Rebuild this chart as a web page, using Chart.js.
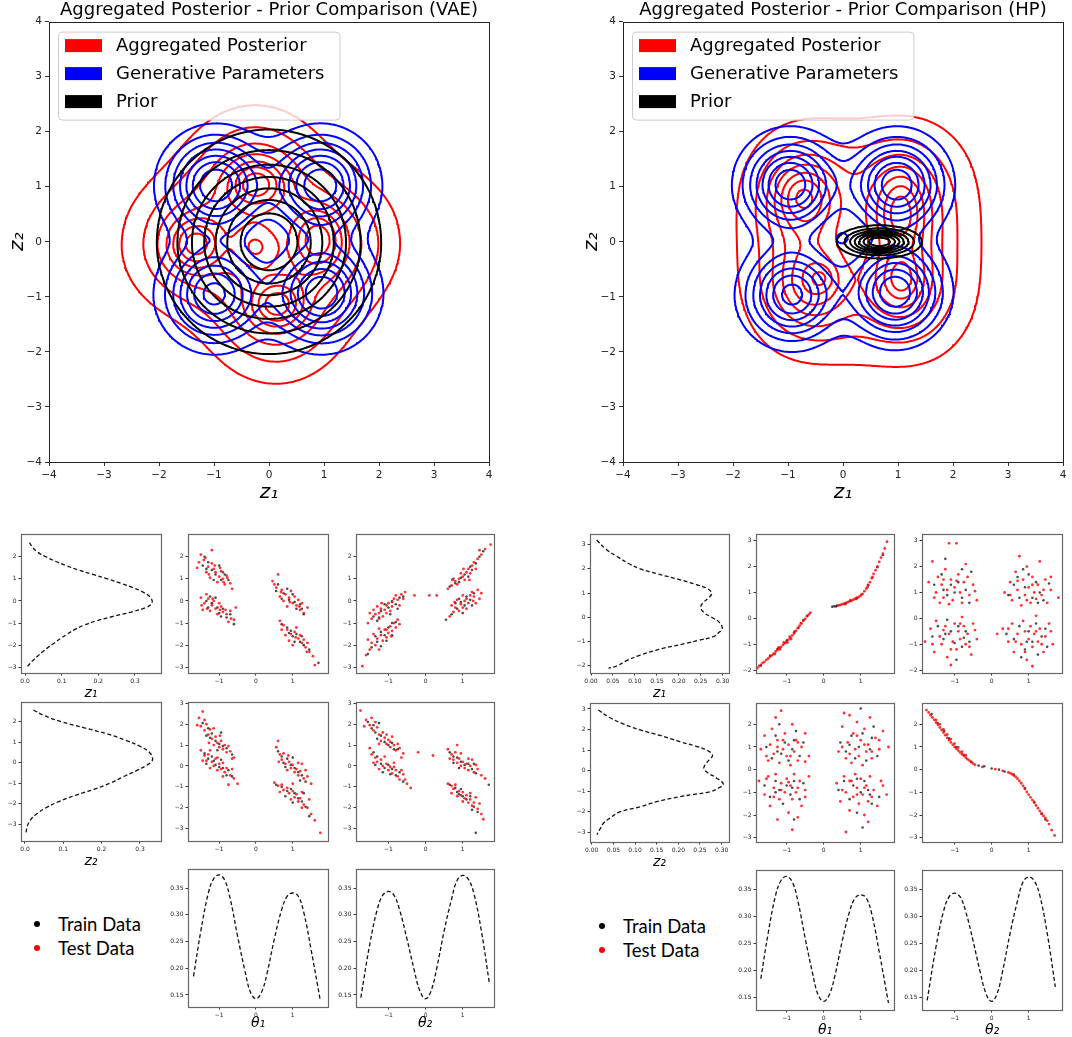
<!DOCTYPE html>
<html>
<head>
<meta charset="utf-8">
<script src="https://cdn.jsdelivr.net/npm/chart.js@4.4.1/dist/chart.umd.min.js"></script>
<style>
  html, body { margin: 0; padding: 0; background: #fff; overflow: hidden; }
  #page { position: relative; width: 1072px; height: 1037px; }
  canvas { position: absolute; }
  .key { position: absolute; font-family: Lato, 'Liberation Sans', sans-serif; font-size: 18.5px; line-height: 24px; color: #000; }
  .key i { display: inline-block; width: 6px; height: 6px; border-radius: 50%; margin-right: 18px; vertical-align: middle; position: relative; top: -2px; }
</style>
</head>
<body>
<div id="page"></div>
<script>
// ---- contour data: gaussian bumps [cx, cy, sx, sy, weight] ----
const vaePosterior = [
  [-1.4, -0.05, 0.8, 0.8, 0.5], [1.1, 0.0, 0.8, 0.8, 0.5], [-0.25, 1.2, 0.8, 0.8, 0.5], [0.12, -1.3, 0.8, 0.8, 0.5],
  [-1.35, -0.05, 0.3, 0.3, 0.5], [0.9, 0.05, 0.28, 0.35, 0.5], [-0.23, 1.06, 0.33, 0.28, 0.5], [0.14, -1.15, 0.3, 0.27, 0.5],
  [-0.25, -0.1, 0.27, 0.28, 0.3]
];
const vaeGenerative = [[-0.97, 1.03, 0.55, 0.55, 1], [0.94, 1.03, 0.55, 0.55, 1], [-1.0, -0.95, 0.55, 0.55, 0.93], [0.96, -0.93, 0.55, 0.55, 1]];
const vaePrior = [[0, 0, 1, 1, 1]];
const hpPosterior = [
  [0.3, 0.0, 1.0, 1.0, 0.12],
  [-1.0, 0.0, 0.75, 1.3, 0.18], [1.55, 0.0, 0.75, 1.35, 0.2], [0.3, 1.3, 1.2, 0.8, 0.16], [0.3, -1.3, 1.2, 0.8, 0.16],
  [-0.7, 0.75, 0.45, 0.55, 0.4], [1.05, 0.6, 0.42, 0.6, 0.4], [-0.55, -0.75, 0.45, 0.5, 0.4], [1.05, -0.75, 0.42, 0.5, 0.4],
  [-0.75, 0.85, 0.28, 0.28, 0.15], [1.05, 0.5, 0.2, 0.38, 0.15], [-0.39, -0.66, 0.16, 0.16, 0.15], [1.07, -0.66, 0.16, 0.2, 0.15]
];
const hpGenerative = [[-0.96, 1.04, 0.52, 0.52, 1], [0.98, 1.04, 0.52, 0.52, 1], [-0.93, -0.96, 0.52, 0.52, 0.93], [0.95, -0.91, 0.52, 0.52, 1]];
const hpPrior = [[0.66, 0, 0.38, 0.147, 1]];
const contourLevels = [0.125, 0.25, 0.375, 0.5, 0.625, 0.75, 0.875];
const mainTicks = [-4, -3, -2, -1, 0, 1, 2, 3, 4];
const legendLabels = ['Aggregated Posterior', 'Generative Parameters', 'Prior'];

// ---- marginal densities [density, z] and [theta, density] ----
const vaeZ1Density = [[0.012,2.64],[0.022,2.4],[0.035,2.2],[0.057,2.0],[0.082,1.8],[0.112,1.6],[0.146,1.4],[0.185,1.2],[0.225,1.0],[0.262,0.8],[0.295,0.6],[0.322,0.4],[0.34,0.2],[0.347,0.0],[0.344,-0.15],[0.33,-0.3],[0.29,-0.5],[0.24,-0.7],[0.195,-0.9],[0.16,-1.1],[0.135,-1.3],[0.115,-1.5],[0.097,-1.7],[0.08,-1.9],[0.063,-2.1],[0.048,-2.3],[0.034,-2.5],[0.021,-2.7],[0.01,-2.9],[0.005,-3.0]];
const vaeZ2Density = [[0.022,2.57],[0.05,2.3],[0.095,2.0],[0.155,1.7],[0.215,1.4],[0.262,1.1],[0.3,0.8],[0.325,0.5],[0.333,0.15],[0.32,-0.1],[0.29,-0.4],[0.255,-0.7],[0.222,-1.0],[0.18,-1.3],[0.13,-1.6],[0.088,-1.9],[0.055,-2.2],[0.03,-2.5],[0.014,-2.8],[0.006,-3.1],[0.002,-3.5]];
const hpZ1Density = [[0.013,3.19],[0.035,2.8],[0.06,2.5],[0.088,2.2],[0.112,2.0],[0.15,1.8],[0.203,1.55],[0.24,1.35],[0.264,1.2],[0.275,1.0],[0.268,0.8],[0.255,0.6],[0.25,0.4],[0.257,0.2],[0.275,0.0],[0.292,-0.2],[0.299,-0.45],[0.29,-0.65],[0.279,-0.8],[0.245,-0.95],[0.218,-1.07],[0.16,-1.3],[0.112,-1.56],[0.08,-1.8],[0.06,-2.0],[0.04,-2.11]];
const hpZ2Density = [[0.015,2.95],[0.04,2.6],[0.07,2.3],[0.112,1.98],[0.16,1.7],[0.204,1.41],[0.24,1.2],[0.266,1.0],[0.279,0.76],[0.27,0.5],[0.262,0.3],[0.259,0.11],[0.268,-0.1],[0.288,-0.35],[0.304,-0.65],[0.292,-0.85],[0.273,-1.02],[0.235,-1.15],[0.204,-1.26],[0.15,-1.5],[0.112,-1.75],[0.065,-2.0],[0.042,-2.3],[0.027,-2.55],[0.02,-2.8],[0.012,-3.1]];
const theta1Density = [[-1.7,0.185],[-1.5,0.27],[-1.3,0.34],[-1.15,0.368],[-1.0,0.375],[-0.85,0.365],[-0.7,0.33],[-0.5,0.26],[-0.3,0.195],[-0.15,0.155],[0.0,0.143],[0.15,0.155],[0.3,0.19],[0.5,0.255],[0.7,0.31],[0.85,0.335],[1.0,0.341],[1.15,0.335],[1.3,0.305],[1.5,0.235],[1.75,0.14]];
const theta2Density = [[-1.74,0.145],[-1.5,0.245],[-1.3,0.31],[-1.15,0.337],[-1.0,0.344],[-0.85,0.337],[-0.7,0.31],[-0.5,0.255],[-0.3,0.195],[-0.15,0.157],[0.0,0.143],[0.15,0.158],[0.3,0.2],[0.5,0.27],[0.7,0.33],[0.85,0.365],[1.0,0.374],[1.15,0.367],[1.3,0.34],[1.5,0.27],[1.72,0.17]];

// ---- VAE samples [theta, z] ----
const vaeT1Z1Test = [[-1.42,1.85],[-1.3,1.55],[-1.2,1.7],[-1.1,1.3],[-1.0,1.1],[-0.9,1.0],[-0.85,0.75],[-0.7,0.8],[-1.25,1.05],[-1.35,1.3],[-1.5,2.1],[-1.15,1.45],[-0.95,1.35],[-0.8,1.15],[-1.05,0.85],[-1.6,1.5],[-0.65,0.55],[-1.2,2.3],
  [-1.5,0.15],[-1.4,-0.1],[-1.3,0.1],[-1.2,-0.2],[-1.1,-0.35],[-1.0,-0.1],[-0.9,-0.5],[-0.8,-0.6],[-0.7,-0.45],[-0.6,-0.85],[-1.25,-0.45],[-1.05,-0.6],[-0.95,-0.25],[-1.35,0.3],[-0.75,-0.95],[-1.15,0.0],[-0.55,-0.3],[-1.45,-0.4],
  [0.45,0.9],[0.55,0.6],[0.7,0.5],[0.8,0.3],[0.9,0.15],[1.0,-0.1],[1.1,-0.2],[1.2,-0.4],[1.3,-0.55],[1.4,-0.3],[0.75,0.0],[0.95,0.45],[1.05,0.2],[1.15,0.05],[0.65,0.2],[1.25,-0.1],[0.85,-0.25],[0.6,1.2],
  [0.65,-0.9],[0.75,-1.1],[0.85,-1.3],[0.95,-1.5],[1.05,-1.4],[1.15,-1.7],[1.25,-1.9],[1.35,-2.1],[1.45,-2.3],[1.55,-2.5],[0.9,-1.8],[1.1,-1.2],[1.2,-1.55],[1.3,-1.75],[1.0,-2.0],[0.8,-1.55],[1.4,-1.9],[1.6,-2.9],
  [-1.55,1.75],[-1.38,1.95],[-1.28,1.2],[-1.12,1.6],[-0.98,1.5],[-0.88,0.85],[-0.78,1.05],[-1.48,-0.2],[-1.33,-0.35],[-1.18,0.1],[-0.98,-0.4],[-0.83,-0.4],[-0.68,-0.8],[0.5,0.75],[0.68,0.4],[0.92,-0.05],[1.18,-0.25],[0.7,-1.3],[1.08,-1.65],[1.38,-2.3]];
const vaeT1Z1Train = [[-1.3,1.75],[-1.1,1.2],[-0.95,0.95],[-1.2,1.4],[-0.85,1.2],[-1.45,1.6],[-1.0,1.6],[-0.75,0.95],[-1.15,0.95],[-1.4,2.0],
  [-1.35,0.0],[-1.2,-0.1],[-1.05,-0.3],[-0.9,-0.35],[-0.8,-0.75],[-1.0,-0.55],[-1.3,-0.3],[-0.7,-0.6],[-1.1,0.15],[-0.6,-1.05],
  [0.6,0.75],[0.75,0.35],[0.9,0.05],[1.0,0.3],[1.1,-0.35],[1.2,-0.15],[0.85,0.55],[1.3,-0.6],[0.7,0.1],[1.05,-0.05],
  [0.7,-1.05],[0.85,-1.2],[1.0,-1.6],[1.1,-1.5],[1.2,-1.85],[1.3,-2.0],[0.95,-1.35],[1.45,-2.2],[1.05,-1.85],[1.7,-2.8],
  [-1.35,1.45],[-0.9,1.3],[-1.25,0.2],[-0.95,-0.7],[0.55,0.45],[1.25,-0.35],[0.9,-1.45],[1.25,-1.6]];
const vaeT2Z1Test = [[-1.55,-1.0],[-1.45,-0.8],[-1.35,-0.6],[-1.25,-0.55],[-1.2,-0.35],[-1.1,-0.4],[-1.05,-0.2],[-1.0,-0.1],[-0.9,-0.05],[-0.85,0.1],[-0.75,0.05],[-0.65,0.3],[-0.55,0.4],[-1.3,-0.25],[-0.95,-0.45],[-1.15,-0.7],[-0.7,-0.2],[-1.4,-0.4],
  [-1.6,-2.45],[-1.5,-2.2],[-1.45,-1.9],[-1.35,-2.0],[-1.3,-1.7],[-1.2,-1.55],[-1.15,-1.8],[-1.1,-1.3],[-1.0,-1.45],[-0.95,-1.15],[-0.9,-1.35],[-0.85,-1.0],[-0.75,-0.85],[-1.25,-1.25],[-1.05,-1.65],[-0.8,-1.2],[-1.4,-1.5],[-1.7,-2.95],
  [0.6,0.55],[0.7,0.7],[0.8,0.9],[0.85,0.75],[0.9,1.0],[1.0,1.1],[1.05,0.95],[1.1,1.3],[1.15,1.45],[1.2,1.25],[1.25,1.6],[1.3,1.75],[1.4,1.9],[1.5,2.1],[1.6,2.35],[0.95,1.25],[1.35,1.45],[1.75,2.55],
  [0.65,-0.7],[0.75,-0.5],[0.8,-0.3],[0.9,-0.45],[0.95,-0.15],[1.0,-0.3],[1.05,0.0],[1.1,0.1],[1.15,-0.1],[1.2,0.25],[1.25,0.4],[1.3,0.2],[1.4,0.5],[0.85,0.05],[1.0,0.25],[0.7,-0.2],[1.35,-0.1],[1.5,0.35],
  [-0.3,0.25],[0.1,0.25],[0.3,0.25],
  [-1.5,-0.55],[-1.25,-0.8],[-1.05,-0.55],[-0.9,-0.25],[-0.8,0.25],[-0.6,0.1],[-1.18,-0.1],[-1.55,-1.75],[-1.25,-2.2],[-1.05,-1.3],[-0.92,-1.6],[-0.7,-1.05],[0.72,0.95],[1.02,1.45],[1.18,0.95],[1.45,2.3],[0.78,-0.05],[1.1,-0.35],[1.28,0.0],[1.45,0.1]];
const vaeT2Z1Train = [[-1.4,-0.7],[-1.2,-0.45],[-1.0,-0.3],[-0.9,0.0],[-0.8,-0.15],[-1.1,-0.15],[-0.7,0.15],[-1.3,-0.9],[-0.6,0.2],[-0.95,-0.6],
  [-1.45,-2.1],[-1.3,-1.85],[-1.2,-1.4],[-1.1,-1.55],[-1.0,-1.2],[-0.9,-1.0],[-1.35,-1.6],[-0.8,-0.95],[-1.55,-2.4],[-1.05,-1.8],
  [0.65,0.65],[0.8,0.8],[0.95,1.05],[1.05,1.2],[1.15,1.1],[1.25,1.4],[1.35,1.7],[1.45,2.0],[0.9,0.85],[1.55,2.25],
  [0.7,-0.6],[0.85,-0.35],[0.95,-0.05],[1.05,-0.2],[1.1,0.2],[1.2,0.05],[1.3,0.35],[0.8,-0.1],[1.0,-0.55],[0.55,-0.85],
  [-1.25,-0.75],[-0.75,-0.35],[-1.2,-2.05],[-0.9,-1.55],[0.75,1.0],[1.2,1.55],[0.9,0.1],[1.25,-0.2]];
const vaeT1Z2Test = [[-1.55,2.3],[-1.5,1.9],[-1.4,1.7],[-1.35,2.0],[-1.3,1.5],[-1.25,1.75],[-1.2,1.3],[-1.1,1.4],[-1.05,1.1],[-1.0,0.9],[-0.95,1.2],[-0.9,0.8],[-0.8,0.65],[-0.7,0.7],[-0.6,0.4],[-1.15,1.0],[-0.85,1.0],[-1.45,2.6],
  [-1.5,0.75],[-1.4,0.5],[-1.35,0.25],[-1.3,0.55],[-1.2,0.2],[-1.15,0.0],[-1.1,0.35],[-1.0,0.1],[-0.95,-0.15],[-0.9,0.15],[-0.85,-0.3],[-0.8,-0.1],[-0.7,-0.45],[-0.6,-0.6],[-0.5,-0.85],[-1.05,-0.2],[-1.25,-0.1],[-0.75,-0.9],
  [0.55,0.9],[0.65,0.55],[0.7,0.3],[0.75,0.6],[0.8,0.1],[0.9,0.2],[0.95,-0.1],[1.0,0.05],[1.05,-0.3],[1.1,-0.15],[1.15,-0.45],[1.2,-0.25],[1.3,-0.6],[1.4,-0.5],[1.5,-0.85],[0.85,-0.2],[1.25,0.1],[0.6,1.2],
  [0.5,-0.8],[0.6,-0.95],[0.7,-0.9],[0.75,-1.15],[0.85,-1.05],[0.9,-1.3],[1.0,-1.2],[1.05,-1.5],[1.1,-1.35],[1.15,-1.7],[1.2,-1.55],[1.3,-1.85],[1.4,-2.0],[1.5,-2.3],[0.95,-1.6],[1.25,-1.25],[1.6,-2.6],[1.75,-3.2],
  [-1.6,1.95],[-1.4,2.2],[-1.28,1.1],[-1.15,1.8],[-0.98,1.45],[-0.75,0.95],[-0.65,0.35],[-1.45,0.25],[-1.25,0.75],[-1.05,0.4],[-0.9,-0.5],[-0.65,-0.15],[0.62,0.2],[0.88,0.5],[1.15,0.15],[1.35,-0.2],[0.65,-1.25],[1.0,-0.85],[1.25,-2.0],[1.45,-1.6]];
const vaeT1Z2Train = [[-1.45,2.05],[-1.3,1.8],[-1.2,1.55],[-1.1,1.2],[-1.0,1.05],[-0.9,0.95],[-0.8,0.85],[-1.25,1.35],[-0.65,0.55],[-1.05,0.75],
  [-1.4,0.6],[-1.3,0.35],[-1.2,0.45],[-1.1,0.05],[-1.0,-0.05],[-0.9,-0.1],[-0.8,-0.45],[-1.15,0.25],[-0.65,-0.5],[-0.95,0.3],
  [0.6,0.7],[0.7,0.45],[0.85,0.35],[0.95,0.05],[1.05,-0.1],[1.15,-0.3],[1.25,-0.45],[0.8,-0.05],[1.35,-0.75],[1.0,0.4],
  [0.55,-0.9],[0.7,-1.0],[0.85,-1.2],[0.95,-1.1],[1.05,-1.3],[1.15,-1.55],[1.25,-1.7],[1.35,-1.95],[1.0,-1.75],[1.45,-2.4],
  [-1.35,1.45],[-0.95,1.6],[-1.35,0.1],[-0.75,-0.2],[0.75,0.15],[1.2,-0.7],[0.8,-1.45],[1.3,-1.3]];
const vaeT2Z2Test = [[-1.75,2.65],[-1.6,2.2],[-1.5,1.95],[-1.45,2.3],[-1.4,1.7],[-1.3,1.85],[-1.25,1.5],[-1.2,1.2],[-1.1,1.35],[-1.05,1.05],[-1.0,1.25],[-0.95,0.9],[-0.85,1.0],[-0.8,0.75],[-0.7,0.85],[-0.6,0.6],[-1.15,1.6],[-0.9,1.4],
  [-1.5,0.85],[-1.45,0.55],[-1.35,0.4],[-1.3,0.2],[-1.2,0.3],[-1.15,0.0],[-1.05,0.1],[-1.0,-0.2],[-0.95,-0.05],[-0.9,-0.35],[-0.8,-0.2],[-0.75,-0.5],[-0.7,-0.65],[-0.6,-0.4],[-0.5,-0.85],[-0.4,-1.05],[-1.25,-0.15],[-0.85,0.15],
  [0.6,0.8],[0.7,0.55],[0.75,0.3],[0.8,0.65],[0.85,0.15],[0.9,0.35],[0.95,0.0],[1.0,0.2],[1.05,-0.1],[1.1,0.1],[1.15,-0.2],[1.2,0.0],[1.3,-0.3],[1.4,-0.15],[1.5,-0.45],[1.6,-0.6],[0.85,1.0],[1.25,0.3],
  [0.6,-0.85],[0.7,-0.95],[0.75,-1.1],[0.8,-0.9],[0.9,-1.2],[0.95,-1.4],[1.0,-1.25],[1.05,-1.55],[1.1,-1.4],[1.15,-1.75],[1.2,-1.6],[1.25,-1.9],[1.3,-1.75],[1.4,-2.05],[1.5,-2.3],[0.85,-1.45],[1.35,-1.5],[1.55,-2.55],
  [-0.2,0.65],[0.2,0.5],
  [-1.65,1.9],[-1.35,2.1],[-1.25,1.05],[-1.05,1.5],[-0.95,1.15],[-0.75,1.05],[-0.65,0.4],[-1.4,0.15],[-1.1,0.45],[-0.85,-0.05],[-0.65,-0.2],[-0.55,-0.65],[0.65,0.35],[0.95,0.6],[1.15,0.35],[1.35,0.05],[0.7,-1.3],[1.0,-1.7],[1.2,-1.3],[1.45,-1.8]];
const vaeT2Z2Train = [[-1.55,2.1],[-1.45,1.8],[-1.35,1.6],[-1.2,1.45],[-1.1,1.15],[-1.0,1.0],[-0.9,1.1],[-0.75,0.8],[-1.3,1.3],[-1.25,2.05],
  [-1.4,0.65],[-1.3,0.45],[-1.2,0.1],[-1.1,-0.1],[-1.0,0.05],[-0.9,-0.15],[-0.8,-0.45],[-0.7,-0.3],[-0.6,-0.75],[-1.15,-0.3],
  [0.65,0.65],[0.75,0.45],[0.85,0.4],[0.95,0.2],[1.05,0.05],[1.15,0.1],[1.25,-0.15],[1.35,-0.35],[0.9,-0.1],[1.7,-0.9],
  [0.65,-0.9],[0.8,-1.05],[0.9,-1.35],[1.0,-1.45],[1.1,-1.6],[1.2,-1.45],[1.3,-1.95],[0.95,-1.1],[1.4,-2.2],[1.35,-3.2],
  [-1.4,1.95],[-0.85,0.8],[-1.35,0.05],[-0.95,-0.4],[0.75,0.15],[1.3,0.1],[0.85,-1.25],[1.25,-2.1]];

// ---- HP samples [theta, z] ----
const hpT1Z1Test = [[-1.8,-1.93],[-1.75,-1.85],[-1.7,-1.8],[-1.65,-1.72],[-1.6,-1.68],[-1.55,-1.6],[-1.5,-1.55],[-1.45,-1.48],[-1.4,-1.42],[-1.35,-1.36],[-1.3,-1.28],[-1.25,-1.22],[-1.2,-1.15],[-1.15,-1.1],[-1.1,-1.02],[-1.05,-0.96],[-1.0,-0.9],[-0.95,-0.82],[-0.9,-0.75],[-0.85,-0.66],[-0.8,-0.58],[-0.75,-0.48],[-0.7,-0.38],[-0.65,-0.28],[-0.6,-0.2],[-0.55,-0.1],[-0.5,-0.02],[-0.45,0.08],[-0.4,0.15],[-0.36,0.22],
  [-1.32,-1.38],[-1.18,-1.2],[-1.08,-0.93],[-0.98,-0.94],[-0.88,-0.8],[-0.78,-0.5],[-0.68,-0.36],[-1.22,-1.12],[-0.92,-0.71],[-0.62,-0.18],
  [0.4,0.5],[0.45,0.52],[0.5,0.55],[0.55,0.57],[0.6,0.6],[0.65,0.63],[0.7,0.66],[0.75,0.68],[0.8,0.72],[0.85,0.76],[0.9,0.8],[0.95,0.83],[1.0,0.88],[1.05,0.95],[1.1,1.05],[1.15,1.15],[1.2,1.27],[1.25,1.4],[1.3,1.55],[1.35,1.72],[1.4,1.86],[1.45,2.0],[1.5,2.18],[1.55,2.35],[1.6,2.5],[1.65,2.7],[1.71,2.96],
  [0.58,0.55],[0.72,0.7],[0.88,0.75],[1.02,0.92],[1.18,1.2],[1.32,1.6]];
const hpT1Z1Train = [[0.23,0.45],[0.28,0.47],[0.33,0.46],[0.36,0.5],[-1.7,-1.82],[-1.25,-1.18],[-1.0,-0.85],[-0.8,-0.55],[-0.55,-0.06],[-0.45,0.1],[0.6,0.58],[0.9,0.78],[1.2,1.3],[1.45,1.98],[1.6,2.45],[-1.45,-1.45]];
const hpT2Z1Test = [[-1.7,1.4],[-1.6,2.2],[-1.5,1.0],[-1.45,1.6],[-1.35,1.3],[-1.3,0.8],[-1.25,1.9],[-1.2,1.1],[-1.1,1.5],[-1.05,0.7],[-1.0,1.2],[-0.95,2.9],[-0.9,1.7],[-0.85,1.0],[-0.8,0.6],[-0.75,1.4],[-0.7,2.1],[-0.6,0.9],[-0.5,1.3],[-0.4,0.7],[-1.15,2.9],[-1.4,0.6],
  [-1.8,-0.9],[-1.65,-0.4],[-1.55,-1.3],[-1.5,-0.1],[-1.4,-0.7],[-1.35,-1.0],[-1.25,-0.3],[-1.2,-1.5],[-1.15,-0.6],[-1.05,-0.9],[-1.0,-0.2],[-0.95,-1.2],[-0.9,-0.5],[-0.85,-0.8],[-0.75,-0.3],[-0.7,-1.0],[-0.65,-0.6],[-0.55,-1.4],[-0.5,-0.2],[-0.4,-0.8],[-1.1,-1.8],[-0.8,0.05],
  [0.35,1.0],[0.5,1.4],[0.55,0.7],[0.65,1.8],[0.7,1.1],[0.8,0.5],[0.85,1.5],[0.9,0.9],[0.95,2.0],[1.0,1.2],[1.05,0.6],[1.1,1.6],[1.15,1.0],[1.2,0.75],[1.25,1.3],[1.3,2.2],[1.35,0.9],[1.45,1.5],[1.5,0.6],[1.6,1.1],[1.8,0.8],[0.75,2.4],
  [0.3,-0.4],[0.45,-0.9],[0.55,-0.2],[0.6,-1.3],[0.7,-0.6],[0.8,-1.0],[0.85,-0.1],[0.9,-0.5],[0.95,-1.6],[1.0,-0.8],[1.05,-0.3],[1.1,-1.1],[1.15,-0.6],[1.2,0.1],[1.25,-0.9],[1.3,-0.4],[1.4,-1.3],[1.45,-0.7],[1.55,-0.2],[1.65,-1.0],[1.1,-1.85],[0.15,-0.6],
  [-1.55,0.8],[-1.3,1.5],[-1.15,0.55],[-0.95,1.45],[-0.65,1.6],[-0.45,1.05],[-1.6,-1.0],[-1.3,-0.45],[-1.1,-1.2],[-0.85,-0.2],[-0.6,-1.1],[-0.45,-0.45],
  [0.5,0.9],[0.7,1.45],[0.95,0.7],[1.1,1.3],[1.4,1.1],[1.6,1.6],[0.45,-0.4],[0.65,-0.9],[0.9,-1.3],[1.2,-0.5],[1.35,-1.0],[1.6,-0.5]];
const hpT2Z1Train = [[-1.55,1.3],[-1.35,1.7],[-1.2,0.9],[-1.1,1.3],[-1.0,1.0],[-0.9,1.4],[-0.8,1.9],[-0.7,1.1],[-0.6,0.6],[-1.25,2.3],[-0.55,1.8],
  [-1.6,-0.7],[-1.45,-0.3],[-1.3,-0.8],[-1.2,-0.05],[-1.1,-0.5],[-1.0,-0.95],[-0.9,-0.3],[-0.8,-1.1],[-0.7,-0.5],[-0.6,-0.9],[-0.95,-1.6],
  [0.45,0.9],[0.6,1.3],[0.75,0.8],[0.9,1.2],[1.0,1.7],[1.1,0.8],[1.2,1.4],[1.3,1.0],[1.4,0.7],[0.85,1.9],[1.55,1.35],
  [0.4,-0.6],[0.6,-0.8],[0.75,-0.3],[0.9,-1.2],[1.0,-0.5],[1.1,-0.9],[1.2,-0.2],[1.35,-0.7],[1.5,-1.1],[0.8,-1.5],[1.25,-1.4],
  [-1.3,1.1],[-0.8,0.8],[-1.25,-0.6],[-0.75,-0.75],[0.7,1.6],[1.25,0.6],[0.95,-0.9],[1.45,-0.4]];
const hpT1Z2Test = [[-1.7,0.9],[-1.6,1.5],[-1.5,0.4],[-1.45,1.1],[-1.35,0.7],[-1.3,2.3],[-1.25,1.3],[-1.2,0.3],[-1.1,0.9],[-1.05,1.6],[-1.0,0.6],[-0.95,1.1],[-0.9,0.2],[-0.85,2.0],[-0.8,0.8],[-0.75,1.3],[-0.7,0.4],[-0.6,1.0],[-0.5,1.6],[-0.4,0.6],[-1.15,2.6],[-1.4,1.8],
  [-1.75,-0.5],[-1.6,-1.1],[-1.5,-0.3],[-1.45,-1.6],[-1.35,-0.8],[-1.3,-0.2],[-1.2,-1.3],[-1.15,-0.6],[-1.05,-1.0],[-1.0,-0.4],[-0.95,-1.9],[-0.9,-0.7],[-0.85,-1.3],[-0.8,-0.2],[-0.75,-1.0],[-0.65,-0.5],[-0.6,-1.6],[-0.5,-0.9],[-0.4,-0.3],[-0.85,-2.65],[-1.25,-2.2],[-0.7,-2.1],
  [0.4,0.8],[0.5,1.9],[0.6,0.5],[0.65,1.2],[0.7,2.4],[0.75,0.3],[0.8,1.6],[0.85,0.9],[0.9,2.1],[0.95,0.6],[1.0,1.3],[1.05,0.2],[1.1,1.8],[1.15,0.8],[1.2,1.1],[1.25,2.3],[1.3,0.5],[1.4,1.4],[1.5,0.9],[1.6,1.7],[1.75,1.0],[0.55,2.5],
  [0.35,-0.6],[0.45,-1.4],[0.55,-0.3],[0.6,-1.0],[0.7,-1.8],[0.75,-0.5],[0.8,-1.2],[0.85,-0.2],[0.9,-0.8],[0.95,-1.5],[1.0,-0.4],[1.05,-1.1],[1.1,-2.0],[1.15,-0.7],[1.2,-1.4],[1.25,-0.3],[1.35,-0.9],[1.45,-1.6],[1.55,-0.5],[1.7,-1.1],[0.6,-2.75],[1.2,-2.3],
  [-1.55,0.6],[-1.25,1.0],[-1.1,1.3],[-0.9,0.6],[-0.7,1.2],[-0.5,0.35],[-1.55,-0.4],[-1.35,-1.2],[-1.15,-0.9],[-0.95,-0.55],[-0.7,-0.8],[-0.5,-1.2],
  [0.5,1.0],[0.7,0.7],[0.9,1.5],[1.1,1.1],[1.3,0.8],[1.5,1.3],[0.5,-0.9],[0.7,-0.5],[0.9,-1.1],[1.1,-0.8],[1.3,-1.2],[1.6,-0.7]];
const hpT1Z2Train = [[-1.55,1.0],[-1.4,0.5],[-1.3,1.5],[-1.15,0.7],[-1.05,1.2],[-0.95,0.4],[-0.85,0.9],[-0.75,1.7],[-0.65,0.6],[-1.2,2.0],[-0.55,1.2],
  [-1.6,-0.7],[-1.45,-1.2],[-1.3,-0.5],[-1.2,-0.9],[-1.1,-1.5],[-1.0,-0.7],[-0.9,-1.1],[-0.8,-0.5],[-0.65,-1.3],[-0.55,-0.6],[-0.8,-2.2],
  [0.45,1.2],[0.6,0.8],[0.75,1.5],[0.85,0.5],[0.95,1.0],[1.05,1.6],[1.15,0.4],[1.25,0.9],[1.35,1.9],[1.45,0.6],[1.0,2.7],
  [0.4,-0.9],[0.55,-0.5],[0.7,-1.3],[0.8,-0.7],[0.9,-1.9],[1.0,-1.0],[1.1,-0.5],[1.2,-0.9],[1.3,-1.5],[1.5,-1.2],[1.05,-2.55],
  [-1.25,0.8],[-0.8,1.3],[-1.3,-1.0],[-0.85,-0.8],[0.7,1.1],[1.3,1.4],[0.9,-0.4],[1.25,-1.1]];
const hpT2Z2Test = [[-1.76,2.63],[-1.7,2.52],[-1.65,2.4],[-1.6,2.3],[-1.55,2.2],[-1.5,2.08],[-1.45,1.98],[-1.4,1.86],[-1.35,1.75],[-1.3,1.64],[-1.25,1.52],[-1.2,1.4],[-1.15,1.3],[-1.1,1.2],[-1.05,1.1],[-1.0,1.0],[-0.95,0.92],[-0.9,0.84],[-0.85,0.76],[-0.8,0.68],[-0.75,0.61],[-0.7,0.53],[-0.65,0.46],[-0.6,0.4],[-0.55,0.33],[-0.5,0.27],[-0.45,0.22],
  [-1.5,2.2],[-1.4,2.0],[-1.3,1.78],[-1.2,1.55],[-1.1,1.35],[-1.0,1.15],[-0.9,0.98],[-0.8,0.8],[-0.7,0.64],
  [0.45,-0.12],[0.5,-0.15],[0.55,-0.2],[0.6,-0.26],[0.65,-0.32],[0.7,-0.4],[0.75,-0.5],[0.8,-0.6],[0.85,-0.72],[0.9,-0.85],[0.95,-0.98],[1.0,-1.1],[1.05,-1.22],[1.1,-1.34],[1.15,-1.46],[1.2,-1.58],[1.25,-1.7],[1.3,-1.82],[1.35,-1.93],[1.4,-2.04],[1.45,-2.13],[1.5,-2.25],[1.55,-2.4],[1.62,-2.67],[1.7,-2.9],
  [-0.25,0.12],[0.1,0.02],[0.3,-0.05]];
const hpT2Z2Train = [[-1.62,2.45],[-1.45,2.05],[-1.28,1.7],[-1.15,1.38],[-0.95,1.0],[-0.75,0.66],[-0.55,0.35],[-0.35,0.18],[-0.2,0.15],[0.0,0.05],[0.2,0.0],[0.35,-0.08],[0.6,-0.22],[0.9,-0.82],[1.15,-1.42],[1.35,-1.95],[1.45,-2.2]];

// ---------------------------------------------------------------------------
Chart.defaults.font.family = "'DejaVu Sans', sans-serif";
Chart.defaults.animation = false;
Chart.defaults.events = [];
Chart.defaults.plugins.legend.display = false;
Chart.defaults.plugins.tooltip.enabled = false;

const page = document.getElementById('page');

function density(blobs, x, y) {
  let s = 0;
  for (const [cx, cy, sx, sy, w] of blobs) {
    const dx = (x - cx) / sx, dy = (y - cy) / sy;
    s += w * Math.exp(-0.5 * (dx * dx + dy * dy));
  }
  return s;
}

// marching squares on a grid, segments split by null points
function contourPoints(blobs, levels) {
  const lo = -3.6, n = 180, h = 7.2 / n, m = n + 1;
  const g = new Float64Array(m * m);
  let top = 0;
  for (let j = 0; j < m; j++) for (let i = 0; i < m; i++) {
    const v = density(blobs, lo + i * h, lo + j * h);
    g[j * m + i] = v;
    if (v > top) top = v;
  }
  const out = [];
  for (const f of levels) {
    const L = f * top;
    for (let j = 0; j < n; j++) for (let i = 0; i < n; i++) {
      const a = g[j * m + i], b = g[j * m + i + 1], c = g[(j + 1) * m + i + 1], d = g[(j + 1) * m + i];
      const code = (a > L) | ((b > L) << 1) | ((c > L) << 2) | ((d > L) << 3);
      if (code === 0 || code === 15) continue;
      const x0 = lo + i * h, y0 = lo + j * h;
      const edge = k => k === 0 ? {x: x0 + h * (L - a) / (b - a), y: y0}
        : k === 1 ? {x: x0 + h, y: y0 + h * (L - b) / (c - b)}
        : k === 2 ? {x: x0 + h * (L - d) / (c - d), y: y0 + h}
        : {x: x0, y: y0 + h * (L - a) / (d - a)};
      let pairs;
      if (code === 5 || code === 10) {
        const mid = (a + b + c + d) / 4 > L;
        pairs = (code === 5) === mid ? [[0, 1], [2, 3]] : [[0, 3], [1, 2]];
      } else {
        const e = [];
        if ((a > L) !== (b > L)) e.push(0);
        if ((b > L) !== (c > L)) e.push(1);
        if ((d > L) !== (c > L)) e.push(2);
        if ((a > L) !== (d > L)) e.push(3);
        pairs = [e];
      }
      for (const [p, q] of pairs) out.push(edge(p), edge(q), {x: null, y: null});
    }
  }
  return out;
}

function drawLegend(chart) {
  const {ctx, chartArea: a} = chart;
  ctx.font = "18px 'DejaVu Sans'";
  const items = chart.data.datasets.map(d => ({text: d.label, color: d.borderColor}));
  const tw = Math.max(...items.map(it => ctx.measureText(it.text).width));
  const x = a.left + 9, y = a.top + 10, w = 65 + tw + 8, h = 88;
  ctx.fillStyle = 'rgba(255,255,255,0.8)';
  ctx.strokeStyle = '#cccccc';
  ctx.lineWidth = 1;
  ctx.beginPath();
  if (ctx.roundRect) ctx.roundRect(x + 0.5, y + 0.5, w, h, 4); else ctx.rect(x + 0.5, y + 0.5, w, h);
  ctx.fill();
  ctx.stroke();
  items.forEach((it, k) => {
    const cy = y + 14 + k * 28;
    ctx.fillStyle = it.color;
    ctx.fillRect(x + 7, cy - 6.5, 37, 13);
    ctx.fillStyle = '#000';
    ctx.textBaseline = 'middle';
    ctx.fillText(it.text, x + 58, cy + 1);
  });
}

const framePlugin = {
  id: 'frame',
  afterDatasetsDraw(chart, args, opts) {
    const {ctx, chartArea: a} = chart;
    ctx.save();
    if (opts.legend) drawLegend(chart);
    ctx.strokeStyle = opts.color;
    ctx.lineWidth = opts.width;
    const l = Math.round(a.left), t = Math.round(a.top);
    ctx.strokeRect(l + 0.5, t + 0.5, Math.round(a.right) - l, Math.round(a.bottom) - t);
    ctx.restore();
  }
};

function makeCanvas(box, pad) {
  const c = document.createElement('canvas');
  const w = box.r - box.l + pad.l + pad.r, h = box.b - box.t + pad.t + pad.b;
  c.width = w; c.height = h;
  c.style.left = (box.l - pad.l) + 'px';
  c.style.top = (box.t - pad.t) + 'px';
  c.style.width = w + 'px';
  c.style.height = h + 'px';
  page.appendChild(c);
  return c;
}

function axis(o) {
  return {
    type: 'linear', position: o.pos, min: o.min, max: o.max,
    afterBuildTicks: s => { s.ticks = o.ticks.map(value => ({value})); },
    afterFit: s => { if (o.pos === 'bottom') s.height = o.size; else s.width = o.size; },
    border: {display: false},
    grid: {drawOnChartArea: false, drawTicks: true, tickLength: o.tickLen, color: '#333', lineWidth: 1},
    ticks: {font: {size: o.font}, color: '#222', padding: o.tpad, maxRotation: 0, autoSkip: false,
      callback: v => Number(v).toFixed(o.dec).replace('-', '\u2212')},
    title: o.title ? {display: true, text: o.title, color: '#000', font: {size: o.tsize, style: 'italic'}, padding: {top: o.tp, bottom: o.tp}} : {display: false}
  };
}

function mainChart(box, title, sets) {
  const pad = {l: 49, t: 22, r: 9, b: 45};
  const cv = makeCanvas(box, pad);
  new Chart(cv, {
    type: 'scatter',
    data: {datasets: sets.map((s, k) => ({
      label: s.label, data: contourPoints(s.blobs, contourLevels), showLine: true, spanGaps: false,
      pointRadius: 0, borderColor: s.color, borderWidth: 2, borderCapStyle: 'round', borderJoinStyle: 'round',
      order: sets.length - k
    }))},
    options: {
      responsive: false,
      layout: {padding: {left: 0, top: 0, right: pad.r, bottom: 0}},
      plugins: {
        title: {display: true, text: title, fullSize: false, color: '#000', font: {size: 18, weight: 'normal'}, padding: 0},
        frame: {color: '#222', width: 1, legend: true}
      },
      scales: {
        x: axis({pos: 'bottom', min: -4, max: 4, ticks: mainTicks, dec: 0, size: pad.b, tickLen: 4, font: 10.5, tpad: 3, title: 'z\u2081', tsize: 20, tp: 2}),
        y: axis({pos: 'left', min: -4, max: 4, ticks: mainTicks, dec: 0, size: pad.l, tickLen: 4, font: 10.5, tpad: 3, title: 'z\u2082', tsize: 20, tp: 6})
      }
    },
    plugins: [framePlugin]
  });
}

const pts = arr => arr.map(([x, y]) => ({x, y}));
function dots(test, train) {
  return [
    {data: pts(test), pointRadius: 1.4, backgroundColor: 'rgba(255,0,0,0.8)', borderWidth: 0, order: 1},
    {data: pts(train), pointRadius: 1.3, backgroundColor: 'rgba(0,0,0,0.7)', borderWidth: 0, order: 2}
  ];
}
function dashed(arr) {
  return [{data: pts(arr), showLine: true, pointRadius: 0, borderColor: '#111', borderWidth: 1.3, borderDash: [4, 2.5], tension: 0.4}];
}

function panel(box, o) {
  const pad = {l: o.padL || 26, t: 6, r: 8, b: o.padB || 29};
  const cv = makeCanvas(box, pad);
  new Chart(cv, {
    type: 'scatter',
    data: {datasets: o.datasets},
    options: {
      responsive: false,
      layout: {padding: {left: 0, top: pad.t, right: pad.r, bottom: 0}},
      plugins: {frame: {color: '#666', width: 1.2}},
      scales: {
        x: axis({pos: 'bottom', min: o.x[0], max: o.x[1], ticks: o.xt, dec: o.xd || 0, size: pad.b, tickLen: 2.5, font: 6, tpad: 2, title: o.title, tsize: 14, tp: 0}),
        y: axis({pos: 'left', min: o.y[0], max: o.y[1], ticks: o.yt, dec: o.yd || 0, size: pad.l, tickLen: 2.5, font: 6, tpad: 2})
      }
    },
    plugins: [framePlugin]
  });
}

// ---- big contour panels ----
mainChart({l: 49, t: 22, r: 489, b: 462}, 'Aggregated Posterior - Prior Comparison (VAE)', [
  {label: legendLabels[0], blobs: vaePosterior, color: '#ff0000'},
  {label: legendLabels[1], blobs: vaeGenerative, color: '#0000ff'},
  {label: legendLabels[2], blobs: vaePrior, color: '#000000'}
]);
mainChart({l: 623, t: 22, r: 1063, b: 462}, 'Aggregated Posterior - Prior Comparison (HP)', [
  {label: legendLabels[0], blobs: hpPosterior, color: '#ff0000'},
  {label: legendLabels[1], blobs: hpGenerative, color: '#0000ff'},
  {label: legendLabels[2], blobs: hpPrior, color: '#000000'}
]);

// ---- VAE grid ----
const zT = [-3, -2, -1, 0, 1, 2], zT3 = [-3, -2, -1, 0, 1, 2, 3], thT = [-1, 0, 1];
const pT = [0.15, 0.20, 0.25, 0.30, 0.35];
panel({l: 21, t: 534, r: 161, b: 673}, {padL: 21, x: [-0.011, 0.371], xt: [0, 0.1, 0.2, 0.3], xd: 1, y: [-3.26, 3.03], yt: zT, title: 'z\u2081', datasets: dashed(vaeZ1Density)});
panel({l: 188, t: 534, r: 328, b: 673}, {x: [-1.85, 1.96], xt: thT, y: [-3.26, 3.03], yt: zT, datasets: dots(vaeT1Z1Test, vaeT1Z1Train)});
panel({l: 356, t: 534, r: 494, b: 673}, {x: [-1.87, 1.84], xt: thT, y: [-3.26, 3.03], yt: zT, datasets: dots(vaeT2Z1Test, vaeT2Z1Train)});
panel({l: 21, t: 702, r: 161, b: 841}, {padL: 21, x: [-0.0104, 0.355], xt: [0, 0.1, 0.2, 0.3], xd: 1, y: [-3.82, 2.96], yt: zT, title: 'z\u2082', datasets: dashed(vaeZ2Density)});
panel({l: 188, t: 702, r: 328, b: 841}, {x: [-1.85, 1.96], xt: thT, y: [-3.59, 3.06], yt: zT3, datasets: dots(vaeT1Z2Test, vaeT1Z2Train)});
panel({l: 356, t: 702, r: 494, b: 841}, {x: [-1.87, 1.84], xt: thT, y: [-3.59, 3.06], yt: zT3, datasets: dots(vaeT2Z2Test, vaeT2Z2Train)});
panel({l: 188, t: 869, r: 328, b: 1007}, {padB: 25, x: [-1.85, 1.96], xt: thT, y: [0.1275, 0.386], yt: pT, yd: 2, title: '\u03b8\u2081', datasets: dashed(theta1Density)});
panel({l: 356, t: 869, r: 494, b: 1007}, {padB: 25, x: [-1.87, 1.84], xt: thT, y: [0.1275, 0.386], yt: pT, yd: 2, title: '\u03b8\u2082', datasets: dashed(theta2Density)});

// ---- HP grid ----
const hT1 = [-2, -1, 0, 1, 2, 3], hT2 = [-3, -2, -1, 0, 1, 2];
const dT = [0, 0.05, 0.10, 0.15, 0.20, 0.25, 0.30];
panel({l: 590, t: 534, r: 729, b: 673}, {x: [-0.0023, 0.3144], xt: dT, xd: 2, y: [-2.3, 3.44], yt: hT1, title: 'z\u2081', datasets: dashed(hpZ1Density)});
panel({l: 756, t: 534, r: 894, b: 673}, {x: [-1.83, 1.9], xt: thT, y: [-2.11, 3.26], yt: hT1, datasets: dots(hpT1Z1Test, hpT1Z1Train)});
panel({l: 922, t: 534, r: 1062, b: 673}, {x: [-1.88, 1.9], xt: thT, y: [-2.11, 3.26], yt: hT1, datasets: dots(hpT2Z1Test, hpT2Z1Train)});
panel({l: 590, t: 703, r: 729, b: 842}, {x: [-0.004, 0.317], xt: dT, xd: 2, y: [-3.46, 3.29], yt: zT3, title: 'z\u2082', datasets: dashed(hpZ2Density)});
panel({l: 756, t: 703, r: 894, b: 842}, {x: [-1.83, 1.9], xt: thT, y: [-3.19, 2.94], yt: hT2, datasets: dots(hpT1Z2Test, hpT1Z2Train)});
panel({l: 922, t: 703, r: 1062, b: 842}, {x: [-1.88, 1.9], xt: thT, y: [-3.19, 2.94], yt: hT2, datasets: dots(hpT2Z2Test, hpT2Z2Train)});
panel({l: 756, t: 870, r: 894, b: 1010}, {x: [-1.83, 1.9], xt: thT, y: [0.127, 0.387], yt: pT, yd: 2, title: '\u03b8\u2081', datasets: dashed(theta1Density)});
panel({l: 922, t: 870, r: 1062, b: 1010}, {x: [-1.88, 1.9], xt: thT, y: [0.127, 0.387], yt: pT, yd: 2, title: '\u03b8\u2082', datasets: dashed(theta2Density)});

// ---- train / test key ----
for (const left of [34, 599]) {
  const k = document.createElement('div');
  k.className = 'key';
  k.style.left = left + 'px';
  k.style.top = (left < 100 ? 912 : 914) + 'px';
  k.innerHTML = '<div><i style="background:#000"></i>Train Data</div><div><i style="background:#f00"></i>Test Data</div>';
  page.appendChild(k);
}
</script>
</body>
</html>
